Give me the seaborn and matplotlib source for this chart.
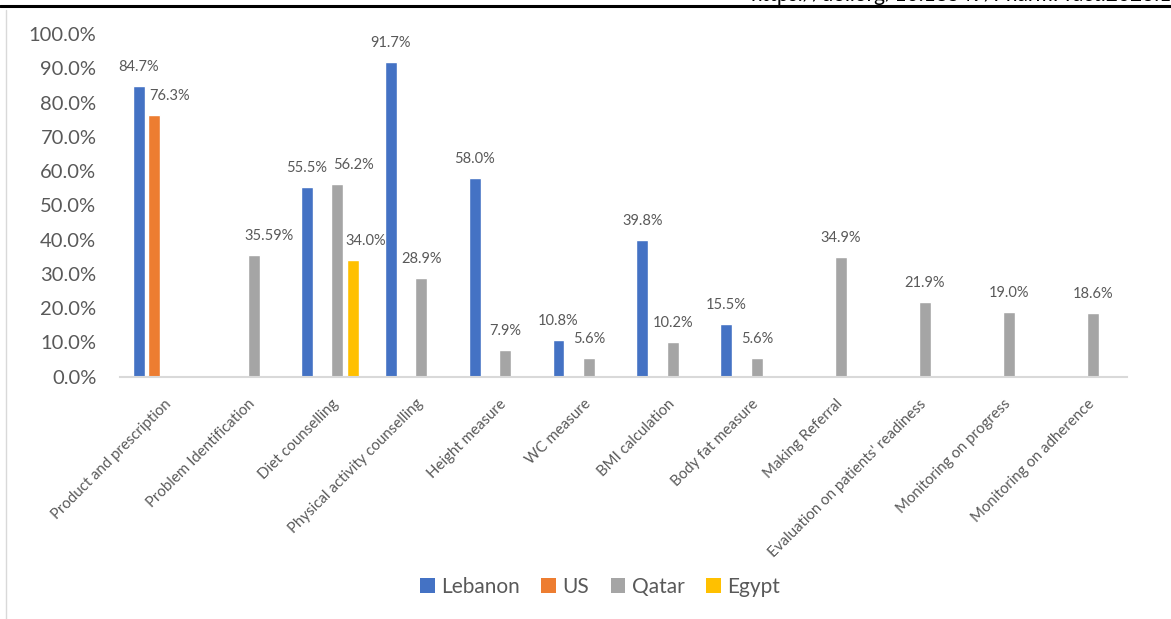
import numpy as np
import pandas as pd
import matplotlib
matplotlib.use("Agg")
import matplotlib.pyplot as plt
from matplotlib.lines import Line2D
from matplotlib.patches import Patch
from matplotlib.ticker import FuncFormatter
import seaborn as sns

# ---------------- data ----------------
categories = [
    "Product and prescription",
    "Problem Identification",
    "Diet counselling",
    "Physical activity counselling",
    "Height measure",
    "WC measure",
    "BMI calculation",
    "Body fat measure",
    "Making Referral",
    "Evaluation on patients' readiness",
    "Monitoring on progress",
    "Monitoring on adherence",
]
countries = ["Lebanon", "US", "Qatar", "Egypt"]

lebanon = [84.7, None, 55.5, 91.7, 58.0, 10.8, 39.8, 15.5, None, None, None, None]
us      = [76.3, None, None, None, None, None, None, None, None, None, None, None]
qatar   = [None, 35.59, 56.2, 28.9, 7.9, 5.6, 10.2, 5.6, 34.9, 21.9, 19.0, 18.6]
egypt   = [None, None, 34.0, None, None, None, None, None, None, None, None, None]

yticks = [0, 10, 20, 30, 40, 50, 60, 70, 80, 90, 100]
header_text = "https://doi.org/10.18549/PharmPract.2023.1.2751"

# ---------------- style ----------------
colors = {"Lebanon": "#4472C4", "US": "#ED7D31", "Qatar": "#A5A5A5", "Egypt": "#FFC000"}
# horizontal nudges (in points) applied to a few data labels, as in the reference
label_nudge = {("US", 0): 11, ("Qatar", 1): 11.5, ("Qatar", 2): 11.5, ("Egypt", 2): 9.5}

sns.set_style("white")
plt.rcParams["font.family"] = ["Lato", "DejaVu Sans"]

series = {"Lebanon": lebanon, "US": us, "Qatar": qatar, "Egypt": egypt}
rows = []
for c in countries:
    for cat, v in zip(categories, series[c]):
        rows.append({"Practice": cat, "Country": c, "Value": np.nan if v is None else v})
df = pd.DataFrame(rows)

W, H = 1171, 619
fig = plt.figure(figsize=(W / 100, H / 100), dpi=100)
left, right, top, bottom = 120, 1127, 34, 376.7
ax = fig.add_axes([left / W, 1 - bottom / H, (right - left) / W, (bottom - top) / H])

sns.barplot(data=df.dropna(), x="Practice", y="Value", hue="Country",
            order=categories, hue_order=countries, palette=colors,
            width=0.732, gap=0.22, dodge=True, errorbar=None,
            saturation=1, legend=False, ax=ax)

ax.set_ylim(0, 100)
ax.set_xlim(-0.5, len(categories) - 0.5)
ax.set_yticks(yticks)
ax.yaxis.set_major_formatter(FuncFormatter(lambda v, p: f"{v:.1f}%"))
ax.tick_params(axis="y", length=0, pad=17, labelsize=14.5, labelcolor="#595959")
ax.set_xlabel("")
ax.set_ylabel("")
ax.set_xticks(range(len(categories)))
ax.set_xticklabels([])
ax.tick_params(axis="x", length=0)
for s in ["left", "right", "top"]:
    ax.spines[s].set_visible(False)
ax.spines["bottom"].set_color("#D9D9D9")
ax.spines["bottom"].set_linewidth(1.5)

# category labels
for i, cat in enumerate(categories):
    ax.annotate(cat, xy=(i, 0), xycoords=("data", "data"),
                xytext=(5, -18), textcoords="offset points",
                rotation=45, ha="right", va="center", rotation_mode="anchor",
                fontsize=10.8, color="#595959", annotation_clip=False)

# data labels
for h, container in zip(countries, ax.containers):
    for bar in container:
        hgt = bar.get_height()
        if np.isnan(hgt):
            continue
        xc = bar.get_x() + bar.get_width() / 2
        ci = int(round(xc))
        v = series[h][ci]
        txt = f"{v:.1f}%" if round(v, 1) == v else f"{v:.2f}%"
        dx = label_nudge.get((h, ci), 0)
        ax.annotate(txt, xy=(xc, hgt), xytext=(dx, 10.8), textcoords="offset points",
                    ha="center", va="baseline", fontsize=10.5, color="#595959")

# legend
handles = [Patch(facecolor=colors[c], edgecolor="none", label=c) for c in countries]
fig.legend(handles=handles, loc="center", bbox_to_anchor=(600 / W, 1 - 586.7 / H),
           ncol=4, frameon=False, fontsize=15, labelcolor="#595959",
           handlelength=0.7, handleheight=0.7, handletextpad=0.3, columnspacing=1.05)

# page decorations
fig.add_artist(Line2D([0, 1], [1 - 6 / H, 1 - 6 / H], color="black", lw=2.2))
fig.add_artist(Line2D([6 / W, 6 / W], [0, 1 - 10 / H], color="#D9D9D9", lw=1))
fig.text(750 / W, 1 - 1 / H, header_text, fontsize=15, ha="left", va="baseline", color="black")

fig.savefig("out.png", dpi=100)
